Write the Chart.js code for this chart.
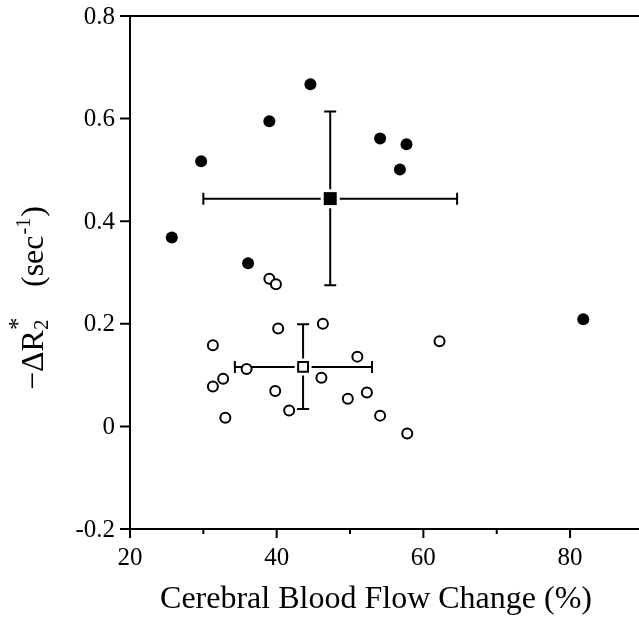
<!DOCTYPE html>
<html>
<head>
<meta charset="utf-8">
<script src="https://cdn.jsdelivr.net/npm/chart.js@4/dist/chart.umd.min.js"></script>
<style>
  html, body { margin: 0; padding: 0; background: #fff; }
  #wrap { width: 639px; height: 618px; }
</style>
</head>
<body>
<div id="wrap"><canvas id="c" width="639" height="618"></canvas></div>
<script>
// filled circles (one group)
var filledX = [25.7, 29.7, 36.1, 39.0, 44.6, 54.1, 56.8, 57.7, 81.8];
var filledY = [0.368, 0.517, 0.318, 0.595, 0.667, 0.561, 0.501, 0.550, 0.209];
// open circles (other group)
var openX = [31.3, 31.3, 32.7, 33.0, 35.9, 39.0, 39.9, 39.8, 40.2, 41.7, 46.1, 46.3, 49.7, 51.0, 52.3, 54.1, 57.8, 62.2];
var openY = [0.158, 0.078, 0.093, 0.017, 0.112, 0.288, 0.277, 0.069, 0.191, 0.031, 0.095, 0.200, 0.054, 0.136, 0.066, 0.021, -0.014, 0.166];
// group means with error bars: [filled, open]
var meanX = [47.3, 43.6];
var meanY = [0.444, 0.116];
var meanXLow = [30.0, 34.3];
var meanXHigh = [64.6, 53.0];
var meanYLow = [0.275, 0.034];
var meanYHigh = [0.614, 0.199];
// axes
var xTicks = [20, 40, 60, 80];
var xMinorTicks = [30, 50, 70];
var yTicks = [-0.2, 0, 0.2, 0.4, 0.6, 0.8];
var yTickLabels = ['-0.2', '0', '0.2', '0.4', '0.6', '0.8'];

var serif = '"Liberation Serif", "DejaVu Serif", serif';

function pts(xs, ys) {
    var out = [];
    for (var i = 0; i < xs.length; i++) out.push({x: xs[i], y: ys[i]});
    return out;
}

var meanHalf = [6.5, 5.5]; // half side of the square markers
var barGap = 3;

var errorBars = {
    id: 'errorBars',
    beforeDatasetsDraw: function(chart) {
        var ctx = chart.ctx, xs = chart.scales.x, ys = chart.scales.y;
        ctx.save();
        ctx.strokeStyle = '#000';
        ctx.lineWidth = 2;
        for (var i = 0; i < meanX.length; i++) {
            var cx = xs.getPixelForValue(meanX[i]);
            var cy = ys.getPixelForValue(meanY[i]);
            var x0 = xs.getPixelForValue(meanXLow[i]);
            var x1 = xs.getPixelForValue(meanXHigh[i]);
            var y0 = ys.getPixelForValue(meanYLow[i]);
            var y1 = ys.getPixelForValue(meanYHigh[i]);
            var g = meanHalf[i] + barGap;
            ctx.beginPath();
            // horizontal
            ctx.moveTo(x0, cy); ctx.lineTo(cx - g, cy);
            ctx.moveTo(cx + g, cy); ctx.lineTo(x1, cy);
            ctx.moveTo(x0, cy - 6); ctx.lineTo(x0, cy + 6);
            ctx.moveTo(x1, cy - 6); ctx.lineTo(x1, cy + 6);
            // vertical
            ctx.moveTo(cx, y1); ctx.lineTo(cx, cy - g);
            ctx.moveTo(cx, cy + g); ctx.lineTo(cx, y0);
            ctx.moveTo(cx - 6, y1); ctx.lineTo(cx + 6, y1);
            ctx.moveTo(cx - 6, y0); ctx.lineTo(cx + 6, y0);
            ctx.stroke();
        }
        ctx.restore();
    }
};

var axesDraw = {
    id: 'axesDraw',
    afterDraw: function(chart) {
        var ctx = chart.ctx, xs = chart.scales.x, ys = chart.scales.y;
        var a = chart.chartArea;
        ctx.save();
        ctx.strokeStyle = '#000';
        ctx.lineWidth = 2;
        ctx.beginPath();
        // top line, left axis, bottom axis
        ctx.moveTo(a.left - 10, a.top); ctx.lineTo(a.right, a.top);
        ctx.moveTo(a.left, a.top); ctx.lineTo(a.left, a.bottom);
        ctx.moveTo(a.left, a.bottom); ctx.lineTo(a.right, a.bottom);
        for (var i = 0; i < yTicks.length; i++) {
            var py = ys.getPixelForValue(yTicks[i]);
            ctx.moveTo(a.left - 10, py); ctx.lineTo(a.left, py);
        }
        for (var j = 0; j < xTicks.length; j++) {
            var px = xs.getPixelForValue(xTicks[j]);
            ctx.moveTo(px, a.bottom); ctx.lineTo(px, a.bottom + 9);
        }
        for (var k = 0; k < xMinorTicks.length; k++) {
            var mx = xs.getPixelForValue(xMinorTicks[k]);
            ctx.moveTo(mx, a.bottom); ctx.lineTo(mx, a.bottom + 5);
        }
        ctx.stroke();

        ctx.fillStyle = '#000';
        ctx.font = '25px ' + serif;
        ctx.textAlign = 'right';
        ctx.textBaseline = 'middle';
        for (var i2 = 0; i2 < yTicks.length; i2++) {
            ctx.fillText(yTickLabels[i2], a.left - 15, ys.getPixelForValue(yTicks[i2]) + 1);
        }
        ctx.textAlign = 'center';
        for (var j2 = 0; j2 < xTicks.length; j2++) {
            ctx.fillText(String(xTicks[j2]), xs.getPixelForValue(xTicks[j2]), a.bottom + 29);
        }

        // x title
        ctx.font = '32px ' + serif;
        ctx.textBaseline = 'alphabetic';
        ctx.fillText('Cerebral Blood Flow Change (%)', 376, 608);

        // y title, rotated
        ctx.translate(43, 390);
        ctx.rotate(-Math.PI / 2);
        ctx.textAlign = 'left';
        ctx.font = '32px ' + serif;
        ctx.fillText('\u2212\u0394R', 0, 0);
        var w = ctx.measureText('\u2212\u0394R').width;
        ctx.font = '21px ' + serif;
        ctx.fillText('2', w, 5);
        ctx.font = '25px ' + serif;
        ctx.fillText('*', w, -17);
        ctx.font = '32px ' + serif;
        var sx = 103;
        ctx.fillText('(sec', sx, 0);
        sx += ctx.measureText('(sec').width;
        ctx.font = '20px ' + serif;
        ctx.fillText('-1', sx + 1, -13);
        sx += ctx.measureText('-1').width + 2;
        ctx.font = '32px ' + serif;
        ctx.fillText(')', sx, 0);
        ctx.restore();
    }
};

var ctx = document.getElementById('c');
var chart = new Chart(ctx, {
    type: 'scatter',
    data: {
        datasets: [
            {
                data: pts(filledX, filledY),
                pointRadius: 6,
                pointBackgroundColor: '#000',
                pointBorderWidth: 0
            },
            {
                data: pts(openX, openY),
                pointRadius: 5,
                pointBackgroundColor: '#fff',
                pointBorderColor: '#000',
                pointBorderWidth: 2
            },
            {
                data: [{x: meanX[0], y: meanY[0]}],
                pointStyle: 'rect',
                pointRadius: 9.2,
                pointBackgroundColor: '#000',
                pointBorderWidth: 0
            },
            {
                data: [{x: meanX[1], y: meanY[1]}],
                pointStyle: 'rect',
                pointRadius: 7,
                pointBackgroundColor: '#fff',
                pointBorderColor: '#000',
                pointBorderWidth: 2
            }
        ]
    },
    options: {
        responsive: false,
        animation: false,
        devicePixelRatio: 1,
        layout: { autoPadding: false, padding: { left: 130, top: 16, right: 0, bottom: 89 } },
        plugins: { legend: { display: false }, tooltip: { enabled: false } },
        scales: {
            x: { type: 'linear', min: 20, max: 89.4, display: false },
            y: { type: 'linear', min: -0.2, max: 0.8, display: false }
        }
    },
    plugins: [errorBars, axesDraw]
});
</script>
</body>
</html>
